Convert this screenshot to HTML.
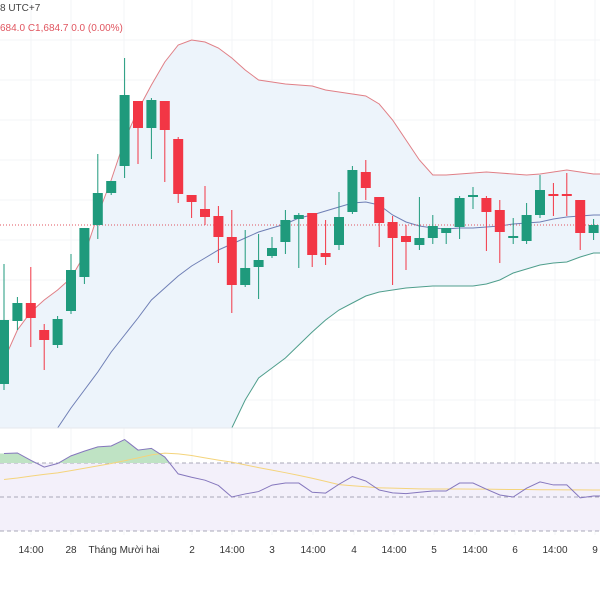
<!DOCTYPE html>
<html><head><meta charset="utf-8"><style>
html,body{margin:0;padding:0;background:#fff;width:600px;height:600px;overflow:hidden;font-family:"Liberation Sans","Noto Sans CJK SC",sans-serif}
svg{position:absolute;left:0;top:0}
</style></head><body>
<svg id="chart" width="600" height="600">
 <defs>
  <clipPath id="mainClip"><rect x="0" y="0" width="600" height="428"/></clipPath>
  <clipPath id="obClip"><rect x="0" y="420" width="600" height="43"/></clipPath>
 </defs>
 <g id="grid"></g>
 <g id="main" clip-path="url(#mainClip)"></g>
 <g id="rsi"></g>
 <g id="axis"></g>
 <text x="0" y="11" font-size="10" fill="#444">8 UTC+7</text>
 <text x="0" y="31" font-size="10" fill="#e0555f">684.0 <tspan fill="#e0555f">C</tspan>1,684.7 0.0 (0.00%)</text>
</svg>
<script>
const opens=[1608,1639.5,1648.5,1635,1627.5,1644.5,1661.5,1687.5,1703.5,1717,1749.5,1736,1749.5,1730.5,1702.5,1695.5,1692,1681.5,1657.5,1666.5,1672,1679,1690.5,1693.5,1673.5,1677.5,1694,1714,1701.5,1689,1682,1677.5,1681,1683.5,1686.5,1702,1701,1695,1681.5,1679.5,1692.5,1703,1703,1700,1683.5];
const highs=[1668,1651.5,1666.5,1638,1642,1673,1686,1723,1709.5,1771,1749.5,1751,1749.5,1731.5,1702.5,1707,1697,1695,1685,1683,1681.5,1695,1693.5,1693.5,1690,1704,1717,1720,1701.5,1692,1687.5,1701.5,1692.5,1686,1702,1706.5,1702,1700,1691,1698.5,1712.5,1708.5,1713.5,1700,1690.5];
const lows=[1605,1635,1626.5,1615,1626,1643,1658,1680.5,1702.5,1711,1718,1720.5,1709,1698.5,1691,1687.5,1668.5,1643.5,1656.5,1650.5,1671,1673,1666,1666.5,1667.5,1675,1693,1700,1676.5,1657.5,1665,1675,1678,1678,1680.5,1695.5,1674.5,1668.5,1678,1678,1691,1692,1692,1675,1680];
const closes=[1640,1648.5,1641,1630,1640.5,1665,1686,1703.5,1709.5,1752.5,1736,1750,1735,1703,1699,1691.5,1681.5,1657.5,1666,1670,1676,1690,1692.5,1672.5,1671.5,1691.5,1715,1706,1688.5,1681,1679,1681,1687,1686,1701,1702.5,1694,1684,1682,1692.5,1705,1702,1702,1683.5,1687.5];
const bbUpper=[1620,1635,1644,1650,1655,1661,1672.5,1692.5,1710,1730,1745,1757.5,1769,1777.5,1780,1779,1776,1771,1765,1760,1759,1758,1757.5,1757,1755,1754,1753,1752,1748,1740,1730,1720,1712.5,1712.5,1713,1713.5,1714,1713.5,1713,1712.5,1713,1714,1715,1714,1713];
const bbMid=[null,null,null,null,1586,1596,1605,1614,1624,1632.5,1641,1650,1656,1662,1667,1671,1675,1678,1681,1684,1686,1688,1691,1692.5,1694.5,1696.5,1698.5,1699,1697.5,1692.5,1689,1687,1686,1685.5,1686,1686,1686.5,1687,1688,1688.5,1689,1690.5,1691.5,1692,1692.5];
const bbLower=[null,null,null,null,null,null,null,null,null,null,null,null,null,null,null,null,null,1586,1600,1611,1616,1621,1627.5,1634,1640,1645,1648.5,1652,1654,1655,1656,1656.5,1657,1657,1657,1657,1658,1660,1663.5,1665.5,1667.5,1668.5,1669,1671.5,1673.5];
const rsiVals=[75.6,75.9,71.6,67.6,69.7,74.2,77,79.5,80,83.8,77.6,78.6,73.5,63.6,61.6,59.9,56.8,50,51.8,53.2,57,58.2,58.2,52.8,52.3,57.5,62,59.4,54.1,52.4,52,52.8,53.5,53.5,58.2,58.2,54.6,51.2,50,55.2,58.9,57.1,57.1,49.5,50.6];
const rsiMA=[60.3,61.2,62.3,63.3,64.2,65.5,66.9,68.3,69.7,71.3,73,74.8,75.8,75.4,74.4,73,71.7,70.5,68.9,67.3,65.8,64.3,62.7,61,59.2,57.3,56.6,56,55.4,55.2,55,54.8,54.7,54.7,54.7,54.6,54.6,54.5,54.4,54.4,54.3,54.3,54.2,54.2,54.1];
const rsiLevels=[70,50,30];
const lastPrice=1687.5;
const tickLabels=["14:00","28","Tháng Mười hai","2","14:00","3","14:00","4","14:00","5","14:00","6","14:00","9"];
const tickPos=[31,71,124,192,232,272,313,354,394,434,475,515,555,595];

const NS="http://www.w3.org/2000/svg";
function xS(i){return 4+i*13.4;}
function yS(v){return (1800-v)*2;}
function rS(v){return 497-(v-50)*1.7;}
function mk(tag,attrs,parent){const e=document.createElementNS(NS,tag);for(const k in attrs)e.setAttribute(k,attrs[k]);parent.appendChild(e);return e;}
const grid=document.getElementById('grid'),main=document.getElementById('main'),rsi=document.getElementById('rsi'),axis=document.getElementById('axis');

for(let y=40;y<428;y+=40){const l=mk('line',{x1:0,x2:600,y1:y,y2:y,stroke:'#f3f4f7','stroke-width':1},grid);

}
tickPos.forEach(x=>{const l=mk('line',{x1:x,x2:x,y1:0,y2:535,stroke:'#f3f4f7','stroke-width':1},grid);

});

// band fill (extended to pane edges)
const nB=bbUpper.length;
let pts=['0,'+yS(bbUpper[0])];
bbUpper.forEach((v,i)=>pts.push(xS(i)+','+yS(v)));
pts.push('600,'+yS(bbUpper[nB-1]));
pts.push('600,'+yS(bbLower[nB-1]));
for(let i=nB-1;i>=0;i--){const v=bbLower[i]==null?1580:bbLower[i];pts.push(xS(i)+','+yS(v));}
pts.push('0,'+yS(1580));
const fill=mk('polygon',{points:pts.join(' '),fill:'#edf4fb'},main);


function line(arr,color,name,parent,sc){let d='';arr.forEach((v,i)=>{if(v==null)return;d+=(d?'L':'M')+xS(i)+' '+sc(v);});
d+='L600 '+sc(arr[arr.length-1]);
const p=mk('path',{d:d,fill:'none',stroke:color,'stroke-width':1},parent);

return p;}
line(bbUpper,'#e07f86','bollinger-upper',main,yS);
line(bbMid,'#6f7fb5','bollinger-basis',main,yS);
line(bbLower,'#4f9e8c','bollinger-lower',main,yS);
const pl=mk('line',{x1:0,x2:600,y1:yS(lastPrice),y2:yS(lastPrice),stroke:'#e0555f','stroke-width':1,'stroke-dasharray':'1 2'},main);



opens.forEach((o,i)=>{
 const c=closes[i],up=c>=o,col=up?'#1f9a7c':'#f23645',x=xS(i);
 const g=mk('g',{},main);
 
 
 mk('line',{x1:x,x2:x,y1:yS(highs[i]),y2:yS(lows[i]),stroke:col,'stroke-width':1},g);
 const top=yS(Math.max(o,c)),bot=yS(Math.min(o,c));
 mk('rect',{x:x-5,y:top,width:10,height:Math.max(2,bot-top),fill:col},g);
});

// RSI pane
mk('line',{x1:0,x2:600,y1:428,y2:428,stroke:'#e6e8ee','stroke-width':1},rsi);
const bg=mk('rect',{x:0,y:rS(70),width:600,height:rS(30)-rS(70),fill:'#f3f0fa'},rsi);


rsiLevels.forEach(v=>{const l=mk('line',{x1:0,x2:600,y1:rS(v),y2:rS(v),stroke:'#a9a9b8','stroke-width':1,'stroke-dasharray':'4 3'},rsi);

});
let ad='M0 '+rS(70)+'L0 '+rS(rsiVals[0]);rsiVals.forEach((v,i)=>ad+='L'+xS(i)+' '+rS(v));ad+='L600 '+rS(rsiVals[rsiVals.length-1])+'L600 '+rS(70)+'Z';
const ob=mk('path',{d:ad,fill:'#bfe3c4','clip-path':'url(#obClip)'},rsi);


line(rsiMA,'#f4d47c','rsi-ma-line',rsi,rS);
line(rsiVals,'#8577bd','rsi-line',rsi,rS);

tickLabels.forEach((t,i)=>{const e=mk('text',{x:tickPos[i],y:553,'font-size':10,fill:'#333','text-anchor':'middle'},axis);
e.textContent=t;

});
</script>
</body></html>
